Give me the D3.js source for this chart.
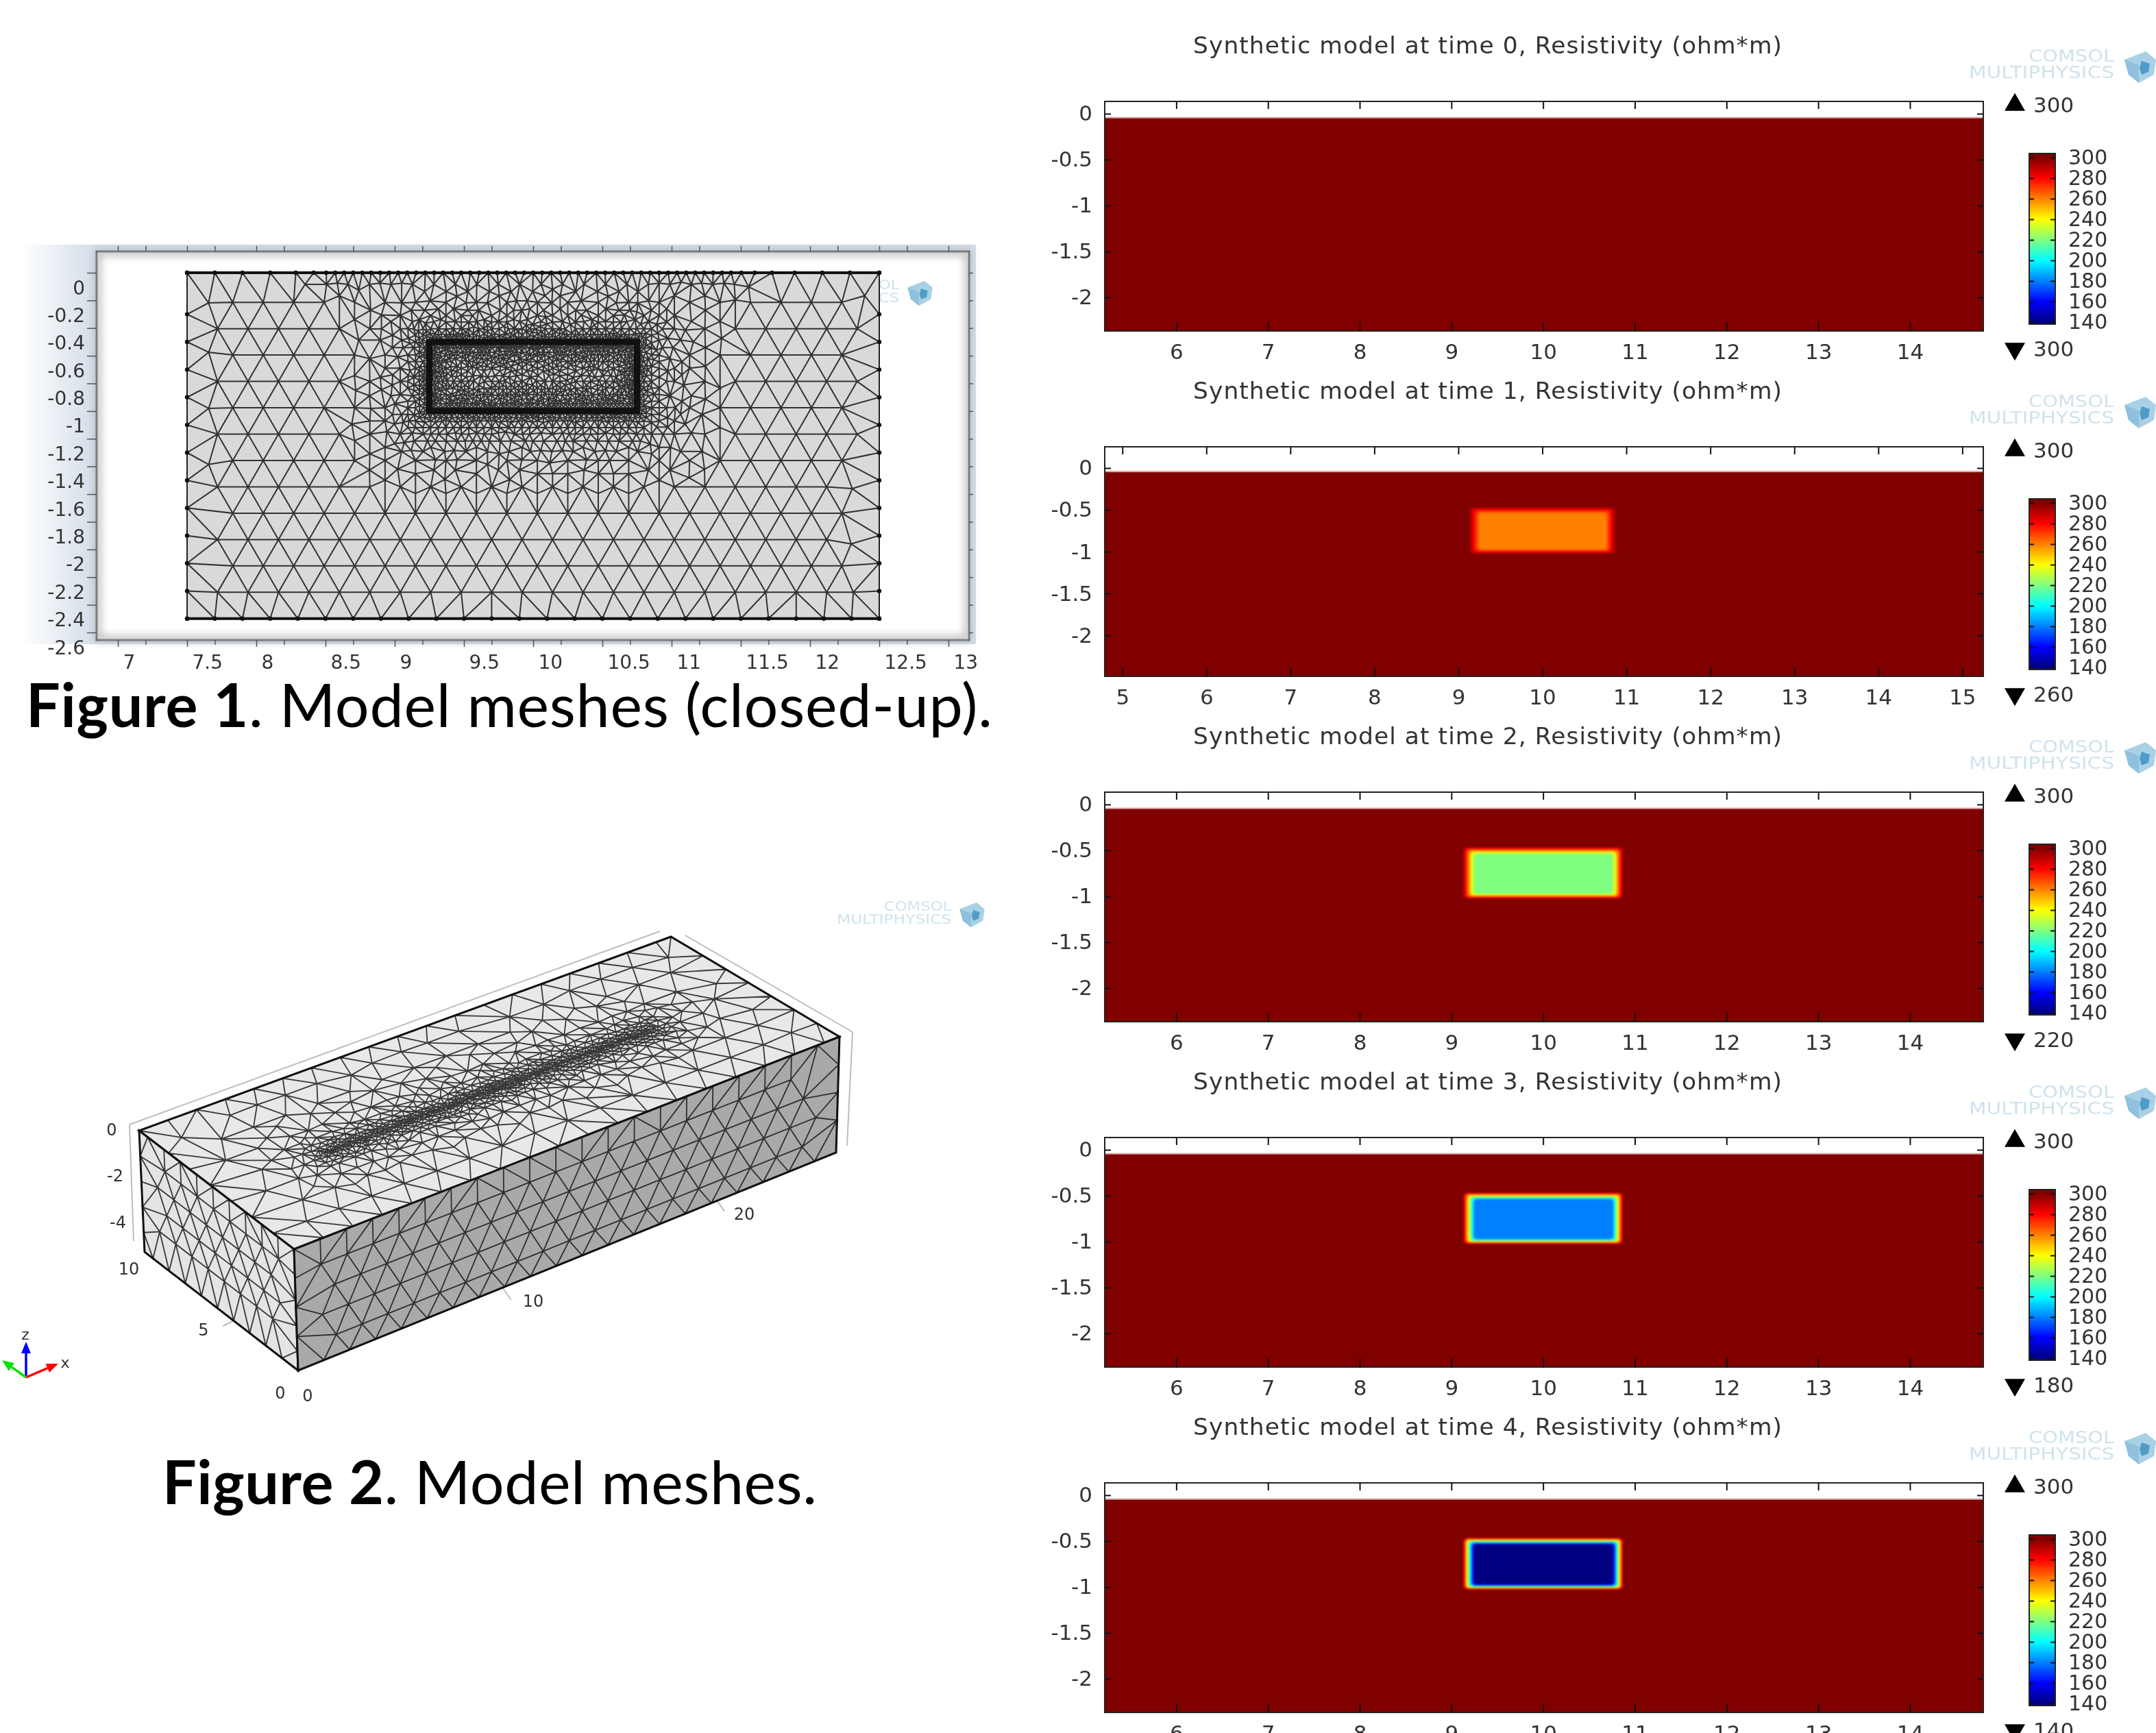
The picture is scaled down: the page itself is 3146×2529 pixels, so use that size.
<!DOCTYPE html>
<html>
<head>
<meta charset="utf-8">
<script src="https://cdn.jsdelivr.net/npm/d3@7"></script>
<style>
    html, body { margin: 0; padding: 0; background: #fff; overflow: hidden; }
    svg { display: block; }
    text { font-family: "DejaVu Sans"; fill: #333; }
    .soft { filter: blur(0.6px); }
    .smear { filter: blur(1.6px); }
</style>
</head>
<body>
<div id="chart"></div>
<script>
// values
const times = [0, 1, 2, 3, 4];
const anomalyValues = [300, 260, 220, 180, 140];
const topLabels = [300, 300, 300, 300, 300];
const bottomLabels = [300, 260, 220, 180, 140];
const colorbarTicks = [140, 160, 180, 200, 220, 240, 260, 280, 300];
const jetColors = ["#000080", "#0000ff", "#0080ff", "#00ffff", "#80ff80", "#ffff00", "#ff8000", "#ff0000", "#800000"];

const panelXDomains = [[5.22, 14.8], [4.79, 15.25], [5.22, 14.8], [5.22, 14.8], [5.22, 14.8]];
const panelYDomains = [[0.134, -2.366], [0.254, -2.49], [0.134, -2.366], [0.134, -2.366], [0.134, -2.366]];
const panelXTicks = [
    [6, 7, 8, 9, 10, 11, 12, 13, 14],
    [5, 6, 7, 8, 9, 10, 11, 12, 13, 14, 15],
    [6, 7, 8, 9, 10, 11, 12, 13, 14],
    [6, 7, 8, 9, 10, 11, 12, 13, 14],
    [6, 7, 8, 9, 10, 11, 12, 13, 14]
];
const panelYTicks = [0, -0.5, -1, -1.5, -2];
const modelTop = -0.05;
const anomalyOuter = {x0: 9.12, x1: 10.88, y0: -0.46, y1: -1.03};
const anomalyInner = {x0: 9.25, x1: 10.76, y0: -0.54, y1: -0.97};
const edgeSteps = d3.range(0, 1.001, 0.05);

const meshXMajor = [7, 7.5, 8, 8.5, 9, 9.5, 10, 10.5, 11, 11.5, 12, 12.5, 13];
const meshXMinor = [7.2, 7.7, 8.2, 8.7, 9.2, 9.7, 10.2, 10.7, 11.2, 11.7, 12.2, 12.7];
const meshYTicks = [0, -0.2, -0.4, -0.6, -0.8, -1, -1.2, -1.4, -1.6, -1.8, -2, -2.2, -2.4, -2.6];
const meshLevels = [0.22, 0.155, 0.11, 0.078, 0.055, 0.039, 0.028, 0.02, 0.014];
const boxLevels = [1.5, 1.06, 0.75, 0.53, 0.37, 0.26, 0.18, 0.13];

const svg = d3.select("#chart").append("svg")
    .attr("width", 3146)
    .attr("height", 2529)
    .attr("viewBox", "0 0 3146 2529");
const defs = svg.append("defs");

const color = d3.scaleLinear().domain(colorbarTicks).range(jetColors);

// distance from a point to a rectangle, 0 inside
function rectDistance(x, y, x0, x1, y0, y1) {
    const dx = Math.max(x0 - x, 0, x - x1);
    const dy = Math.max(y0 - y, 0, y - y1);
    return Math.hypot(dx, dy);
}

// nodes placed coarse to fine on hex lattices, then Delaunay over them
function buildMesh(x0, x1, y0, y1, sizeAt, levels) {
    const points = [];
    const tree = d3.quadtree();
    const add = function (p) { points.push(p); tree.add(p); };

    const walk = function (fixed, a, b, horizontal) {
        let t = a;
        while (t < b - 0.5 * sizeAt(horizontal ? t : fixed, horizontal ? fixed : t)) {
            add(horizontal ? [t, fixed] : [fixed, t]);
            t += sizeAt(horizontal ? t : fixed, horizontal ? fixed : t);
        }
        add(horizontal ? [b, fixed] : [fixed, b]);
    };
    walk(y0, x0, x1, true);
    walk(y1, x0, x1, true);
    walk(x0, y0, y1, false);
    walk(x1, y0, y1, false);

    levels.forEach(function (level) {
        const rowStep = level * 0.866;
        let row = 0;
        for (let y = y0 + rowStep; y < y1; y += rowStep, row++) {
            for (let x = x0 + (row % 2 ? level / 2 : level); x < x1; x += level) {
                const r = sizeAt(x, y) * 0.85;
                if (x - x0 < r * 0.6 || x1 - x < r * 0.6 || y - y0 < r * 0.6 || y1 - y < r * 0.6) continue;
                if (tree.find(x, y, r) === undefined) add([x, y]);
            }
        }
    });
    return {points: points, triangles: d3.Delaunay.from(points).triangles};
}

// path string of all triangles of a mesh through a projection
function meshPath(mesh, project) {
    const path = d3.path();
    const t = mesh.triangles;
    for (let i = 0; i < t.length; i += 3) {
        const a = project(mesh.points[t[i]]);
        const b = project(mesh.points[t[i + 1]]);
        const c = project(mesh.points[t[i + 2]]);
        path.moveTo(a[0], a[1]);
        path.lineTo(b[0], b[1]);
        path.lineTo(c[0], c[1]);
        path.closePath();
    }
    return path.toString();
}

function drawLogo(x, y, scale) {
    const g = svg.append("g")
        .attr("transform", `translate(${x},${y}) scale(${scale})`)
        .attr("class", "soft");
    g.append("text").attr("x", 87).attr("y", -23).attr("textLength", 125).attr("lengthAdjust", "spacingAndGlyphs")
        .style("font-size", "25px").style("fill", "#cfe3ee").text("COMSOL");
    g.append("text").attr("x", 0).attr("y", 1).attr("textLength", 212).attr("lengthAdjust", "spacingAndGlyphs")
        .style("font-size", "25px").style("fill", "#cfe3ee").text("MULTIPHYSICS");
    const cube = g.append("g").attr("transform", "translate(250,-16)");
    cube.append("path").attr("d", "M-23,-10L8,-22L23,-10L20,12L-2,24L-17,12Z").attr("fill", "#a9d1e6");
    cube.append("path").attr("d", "M-23,-10L-2,-2L-2,24L-17,12Z").attr("fill", "#8fc1de");
    cube.append("path").attr("d", "M2,-8L14,-4L12,8L2,12L-1,2Z").attr("fill", "#4f9cc9");
}

// ---------- right column: the five resistivity panels ----------
const frame = {left: 1612, right: 2894, height: 335, top: 148, step: 504};
const barY = d3.scaleLinear().domain([140, 300]).range([322, 82]);
const barTop = 76, barHeight = 249;

const gradient = defs.append("linearGradient")
    .attr("id", "jet").attr("x1", 0).attr("x2", 0).attr("y1", 1).attr("y2", 0);
gradient.selectAll("stop")
    .data(colorbarTicks)
    .join("stop")
    .attr("offset", d => (barTop + barHeight - barY(d)) / barHeight)
    .attr("stop-color", d => color(d));

times.forEach(function (t, i) {
    const top = frame.top + i * frame.step;
    const x = d3.scaleLinear().domain(panelXDomains[i]).range([frame.left, frame.right]);
    const y = d3.scaleLinear().domain(panelYDomains[i]).range([0, frame.height]);

    drawLogo(2873, top - 35, 1);

    const g = svg.append("g").attr("transform", `translate(0,${top})`).attr("class", "soft");

    g.append("text")
        .attr("x", 1741)
        .attr("y", -70)
        .style("font-size", "34.5px")
        .attr("textLength", 859)
        .text(`Synthetic model at time ${t}, Resistivity (ohm*m)`);

    // background resistivity
    g.append("rect")
        .attr("x", frame.left)
        .attr("y", y(modelTop) - 2)
        .attr("width", frame.right - frame.left)
        .attr("height", 3)
        .attr("fill", "#d8a8a8");
    g.append("rect")
        .attr("x", frame.left)
        .attr("y", y(modelTop))
        .attr("width", frame.right - frame.left)
        .attr("height", frame.height - y(modelTop))
        .attr("fill", color(300));

    // the block, with its smeared edge going from 300 to the block value
    if (anomalyValues[i] !== 300) {
        g.append("g")
            .attr("class", "smear")
            .selectAll("rect")
            .data(edgeSteps)
            .join("rect")
            .attr("x", d => x(anomalyOuter.x0 + d * (anomalyInner.x0 - anomalyOuter.x0)))
            .attr("y", d => y(anomalyOuter.y0 + d * (anomalyInner.y0 - anomalyOuter.y0)))
            .attr("width", d => x(anomalyOuter.x1 + d * (anomalyInner.x1 - anomalyOuter.x1)) - x(anomalyOuter.x0 + d * (anomalyInner.x0 - anomalyOuter.x0)))
            .attr("height", d => y(anomalyOuter.y1 + d * (anomalyInner.y1 - anomalyOuter.y1)) - y(anomalyOuter.y0 + d * (anomalyInner.y0 - anomalyOuter.y0)))
            .attr("rx", 5)
            .attr("fill", d => color(300 + d * (anomalyValues[i] - 300)));
    }

    // frame and axes
    g.append("rect")
        .attr("x", frame.left)
        .attr("y", 0)
        .attr("width", frame.right - frame.left)
        .attr("height", frame.height)
        .attr("fill", "none")
        .attr("stroke", "#222")
        .attr("stroke-width", 2);

    const xBottom = g.append("g")
        .attr("transform", `translate(0,${frame.height})`)
        .call(d3.axisBottom(x).tickValues(panelXTicks[i]).tickFormat(String).tickSize(-13).tickPadding(19));
    const xTop = g.append("g")
        .call(d3.axisTop(x).tickValues(panelXTicks[i]).tickFormat("").tickSize(-11));
    const yLeft = g.append("g")
        .attr("transform", `translate(${frame.left},0)`)
        .call(d3.axisLeft(y).tickValues(panelYTicks).tickFormat(String).tickSize(-9).tickPadding(18));
    const yRight = g.append("g")
        .attr("transform", `translate(${frame.right},0)`)
        .call(d3.axisRight(y).tickValues(panelYTicks).tickFormat("").tickSize(-9));
    xTop.selectAll("text").remove();
    yRight.selectAll("text").remove();
    [xBottom, xTop, yLeft, yRight].forEach(function (a) {
        a.select(".domain").remove();
        a.selectAll("line").attr("stroke", "#111").attr("stroke-width", 2);
        a.selectAll("text").style("font-size", "31px").style("font-family", "DejaVu Sans").attr("fill", "#333");
    });

    // max and min markers
    g.append("path")
        .attr("d", d3.symbol(d3.symbolTriangle, 390))
        .attr("transform", "translate(2940,5)")
        .attr("fill", "#000");
    g.append("text").attr("x", 2967).attr("y", 16).style("font-size", "31px").text(topLabels[i]);
    g.append("path")
        .attr("d", d3.symbol(d3.symbolTriangle, 390))
        .attr("transform", "translate(2940,361) rotate(180)")
        .attr("fill", "#000");
    g.append("text").attr("x", 2967).attr("y", 372).style("font-size", "31px").text(bottomLabels[i]);

    // colour bar
    g.append("rect")
        .attr("x", 2961)
        .attr("y", barTop)
        .attr("width", 38)
        .attr("height", barHeight)
        .attr("fill", "url(#jet)")
        .attr("stroke", "#222")
        .attr("stroke-width", 2);
    const barAxis = g.append("g")
        .attr("transform", "translate(2999,0)")
        .call(d3.axisRight(barY).tickValues(colorbarTicks).tickFormat(String).tickSize(-7).tickPadding(19));
    barAxis.select(".domain").remove();
    barAxis.selectAll("line").attr("stroke", "#111").attr("stroke-width", 2);
    barAxis.selectAll("text").style("font-size", "30px").style("font-family", "DejaVu Sans").attr("fill", "#333");
    const barAxisLeft = g.append("g")
        .attr("transform", "translate(2961,0)")
        .call(d3.axisLeft(barY).tickValues(colorbarTicks).tickFormat("").tickSize(-7));
    barAxisLeft.select(".domain").remove();
    barAxisLeft.selectAll("text").remove();
    barAxisLeft.selectAll("line").attr("stroke", "#111").attr("stroke-width", 2);
});

// ---------- Figure 1: close-up of the mesh ----------
const fig1X = d3.scaleLinear().domain([7, 13]).range([172, 1384]);
const fig1Y = d3.scaleLinear().domain([0, -2.6]).range([398, 923]);
const fig1Frame = {left: 141, right: 1414, top: 367, bottom: 934};

const fade = defs.append("linearGradient").attr("id", "fade");
fade.append("stop").attr("offset", 0).attr("stop-color", "#fff");
fade.append("stop").attr("offset", 0.08).attr("stop-color", "#d3dce8");
fade.append("stop").attr("offset", 1).attr("stop-color", "#d3dce8");
const shadow = defs.append("filter").attr("id", "innerShade").attr("x", "-5%").attr("y", "-5%").attr("width", "110%").attr("height", "110%");
shadow.append("feGaussianBlur").attr("stdDeviation", 6);

svg.append("rect")
    .attr("x", 30).attr("y", 357).attr("width", 1394).attr("height", 583)
    .attr("fill", "url(#fade)");
svg.append("rect")
    .attr("x", fig1Frame.left).attr("y", fig1Frame.top)
    .attr("width", fig1Frame.right - fig1Frame.left).attr("height", fig1Frame.bottom - fig1Frame.top)
    .attr("fill", "#fff").attr("stroke", "#444").attr("stroke-width", 3);
svg.append("rect")
    .attr("x", fig1Frame.left + 2).attr("y", fig1Frame.top + 2)
    .attr("width", fig1Frame.right - fig1Frame.left - 4).attr("height", fig1Frame.bottom - fig1Frame.top - 4)
    .attr("fill", "none").attr("stroke", "#b5b5b5").attr("stroke-width", 8)
    .attr("filter", "url(#innerShade)");

drawLogo(1145, 440, 0.79);

const box = {x0: 9.25, x1: 10.75, y0: -1, y1: -0.5};
const fig1Size = function (x, y) {
    const outside = rectDistance(x, y, box.x0, box.x1, box.y0, box.y1);
    const inside = Math.min(x - box.x0, box.x1 - x, y - box.y0, box.y1 - y);
    const nearBox = outside > 0 ? 0.018 + 0.2 * outside : 0.018 + 0.1 * inside;
    const nearTop = 0.065 + 0.3 * rectDistance(x, y, 8.5, 11.4, 0, 0);
    return Math.min(0.2, nearBox, nearTop);
};
const fig1Mesh = buildMesh(7.5, 12.5, -2.5, 0, fig1Size, meshLevels);

const fig1 = svg.append("g").attr("class", "soft");
fig1.append("rect")
    .attr("x", fig1X(7.5)).attr("y", fig1Y(0))
    .attr("width", fig1X(12.5) - fig1X(7.5)).attr("height", fig1Y(-2.5) - fig1Y(0))
    .attr("fill", "#d9d9d9");
fig1.append("path")
    .attr("d", meshPath(fig1Mesh, p => [fig1X(p[0]), fig1Y(p[1])]))
    .attr("fill", "none").attr("stroke", "#151515").attr("stroke-width", 2).attr("stroke-opacity", 0.85);
// box edge and outer edges
fig1.append("rect")
    .attr("x", fig1X(box.x0)).attr("y", fig1Y(box.y1))
    .attr("width", fig1X(box.x1) - fig1X(box.x0)).attr("height", fig1Y(box.y0) - fig1Y(box.y1))
    .attr("fill", "none").attr("stroke", "#111").attr("stroke-width", 9);
fig1.append("rect")
    .attr("x", fig1X(7.5)).attr("y", fig1Y(0))
    .attr("width", fig1X(12.5) - fig1X(7.5)).attr("height", fig1Y(-2.5) - fig1Y(0))
    .attr("fill", "none").attr("stroke", "#222").attr("stroke-width", 2);
[0, -2.5].forEach(function (v) {
    fig1.append("line")
        .attr("x1", fig1X(7.5)).attr("x2", fig1X(12.5))
        .attr("y1", fig1Y(v)).attr("y2", fig1Y(v))
        .attr("stroke", "#111").attr("stroke-width", 4);
});
fig1.append("g").selectAll("circle")
    .data(fig1Mesh.points.filter(p => p[0] === 7.5 || p[0] === 12.5 || p[1] === 0 || p[1] === -2.5))
    .join("circle")
    .attr("cx", d => fig1X(d[0]))
    .attr("cy", d => fig1Y(d[1]))
    .attr("r", 3.2)
    .attr("fill", "#111");

// Fig 1 axes, labels sit beside their ticks as in the original
const fig1Axes = svg.append("g").attr("class", "soft");
const fig1Bottom = fig1Axes.append("g")
    .attr("transform", `translate(0,${fig1Frame.bottom})`)
    .call(d3.axisBottom(fig1X).tickValues(meshXMajor).tickFormat(String).tickSize(10).tickPadding(12));
fig1Bottom.selectAll("text").attr("text-anchor", "start").attr("dx", 7);
const fig1BottomMinor = fig1Axes.append("g")
    .attr("transform", `translate(0,${fig1Frame.bottom})`)
    .call(d3.axisBottom(fig1X).tickValues(meshXMinor).tickFormat("").tickSize(7));
const fig1Top = fig1Axes.append("g")
    .attr("transform", `translate(0,${fig1Frame.top})`)
    .call(d3.axisTop(fig1X).tickValues(meshXMajor.concat(meshXMinor)).tickFormat("").tickSize(8));
const fig1Left = fig1Axes.append("g")
    .attr("transform", `translate(${fig1Frame.left},0)`)
    .call(d3.axisLeft(fig1Y).tickValues(meshYTicks).tickFormat(String).tickSize(14).tickPadding(3));
fig1Left.selectAll("text").attr("dy", 31);
const fig1Right = fig1Axes.append("g")
    .attr("transform", `translate(${fig1Frame.right},0)`)
    .call(d3.axisRight(fig1Y).tickValues(meshYTicks).tickFormat("").tickSize(6));
fig1BottomMinor.selectAll("text").remove();
fig1Top.selectAll("text").remove();
fig1Right.selectAll("text").remove();
[fig1Bottom, fig1BottomMinor, fig1Top, fig1Left, fig1Right].forEach(function (a) {
    a.select(".domain").remove();
    a.selectAll("line").attr("stroke", "#555").attr("stroke-width", 1.5);
    a.selectAll("text").style("font-size", "28px").style("font-family", "DejaVu Sans").attr("fill", "#333");
});

const caption1 = svg.append("text").attr("x", 38).attr("y", 1061).attr("textLength", 1410)
    .style("font-family", "Lato").style("font-size", "88px").style("fill", "#000");
caption1.append("tspan").style("font-family", "Lato").style("font-weight", "bold").style("fill", "#000").text("Figure 1");
caption1.append("tspan").style("font-family", "Lato").style("fill", "#000").text(". Model meshes (closed-up).");

// ---------- Figure 2: the 3D box ----------
const modelLength = 25, modelWidth = 10, modelDepth = 5;
const corners = {
    frontTop: [429, 1823], rightTop: [1225, 1513], backTop: [979, 1367], leftTop: [203, 1650],
    frontBottom: [435, 2000], rightBottom: [1220, 1682], leftBottom: [211, 1827]
};

// four corners a,b,c,d going round a face, s along a-b and t along a-d
function bilinear(a, b, c, d, lenS, lenT) {
    return function (p) {
        const s = p[0] / lenS, t = p[1] / lenT;
        return [0, 1].map(k => (1 - s) * (1 - t) * a[k] + s * (1 - t) * b[k] + s * t * c[k] + (1 - s) * t * d[k]);
    };
}

const topFace = bilinear(corners.frontTop, corners.rightTop, corners.backTop, corners.leftTop, modelLength, modelWidth);
const frontFace = bilinear(corners.frontTop, corners.rightTop, corners.rightBottom, corners.frontBottom, modelLength, modelDepth);
const sideFace = bilinear(corners.frontTop, corners.leftTop, corners.leftBottom, corners.frontBottom, modelWidth, modelDepth);

const topMesh = buildMesh(0, modelLength, 0, modelWidth,
    (x, y) => Math.min(1.35, 0.09 + 0.33 * rectDistance(x, y, 5, 20, 4.8, 4.8)), boxLevels);
const frontMesh = buildMesh(0, modelLength, 0, modelDepth, () => 1.2, [1.2]);
const sideMesh = buildMesh(0, modelWidth, 0, modelDepth, () => 1.05, [1.05]);

const fig2 = svg.append("g").attr("class", "soft");

// grey bounding box behind the model
const axisFront = d3.scaleLinear().domain([0, modelLength]).range([[434, 2026], [1213, 1703]]);
const axisSide = d3.scaleLinear().domain([0, modelWidth]).range([[434, 2026], [217, 1844]]);
const backLines = [
    [[189, 1641], [963, 1359]],
    [[1000, 1365], [1244, 1506]],
    [[1244, 1506], [1236, 1672]],
    [[189, 1641], [195, 1811]],
    [axisFront(0), axisFront(modelLength)],
    [axisSide(0), axisSide(modelWidth)]
];
fig2.append("g").selectAll("line")
    .data(backLines)
    .join("line")
    .attr("x1", d => d[0][0]).attr("y1", d => d[0][1])
    .attr("x2", d => d[1][0]).attr("y2", d => d[1][1])
    .attr("stroke", "#bdbdbd").attr("stroke-width", 2);
fig2.append("g").selectAll("line")
    .data([10, 20])
    .join("line")
    .attr("x1", d => axisFront(d)[0]).attr("y1", d => axisFront(d)[1])
    .attr("x2", d => axisFront(d)[0] - 14).attr("y2", d => axisFront(d)[1] - 20)
    .attr("stroke", "#bdbdbd").attr("stroke-width", 2);
fig2.append("line")
    .attr("x1", axisSide(5)[0]).attr("y1", axisSide(5)[1])
    .attr("x2", axisSide(5)[0] + 20).attr("y2", axisSide(5)[1] - 10)
    .attr("stroke", "#bdbdbd").attr("stroke-width", 2);

function drawFace(mesh, project, outline, fill) {
    fig2.append("path")
        .attr("d", d3.line()(outline) + "Z")
        .attr("fill", fill);
    fig2.append("path")
        .attr("d", meshPath(mesh, project))
        .attr("fill", "none").attr("stroke", "#1a1a1a").attr("stroke-width", 1.8).attr("stroke-opacity", 0.85);
    fig2.append("path")
        .attr("d", d3.line()(outline) + "Z")
        .attr("fill", "none").attr("stroke", "#111").attr("stroke-width", 3);
}
drawFace(topMesh, topFace, [corners.frontTop, corners.rightTop, corners.backTop, corners.leftTop], "#e8e8e8");
drawFace(sideMesh, sideFace, [corners.frontTop, corners.leftTop, corners.leftBottom, corners.frontBottom], "#e4e4e4");
drawFace(frontMesh, frontFace, [corners.frontTop, corners.rightTop, corners.rightBottom, corners.frontBottom], "#a9a9a9");

const fig2Labels = [
    {t: "0", x: 163, y: 1657}, {t: "-2", x: 168, y: 1724}, {t: "-4", x: 172, y: 1792},
    {t: "10", x: 188, y: 1860}, {t: "5", x: 297, y: 1949}, {t: "0", x: 409, y: 2041},
    {t: "0", x: 449, y: 2045}, {t: "10", x: 778, y: 1907}, {t: "20", x: 1086, y: 1780}
];
fig2.append("g").selectAll("text")
    .data(fig2Labels)
    .join("text")
    .attr("x", d => d.x).attr("y", d => d.y)
    .attr("text-anchor", "middle")
    .style("font-size", "24px")
    .text(d => d.t);

drawLogo(1221, 1347, 0.79);

// coordinate triad
const triadOrigin = [38, 2010];
const triad = [
    {end: [38, 1958], color: "#0000ff", label: "z", lx: 37, ly: 1955},
    {end: [85, 1990], color: "#ff0000", label: "x", lx: 95, ly: 1996},
    {end: [3, 1985], color: "#00e000", label: "", lx: 0, ly: 0}
];
const triadGroup = svg.append("g").attr("class", "soft");
triad.forEach(function (a) {
    const dx = a.end[0] - triadOrigin[0], dy = a.end[1] - triadOrigin[1];
    const len = Math.hypot(dx, dy), ux = dx / len, uy = dy / len;
    const bx = a.end[0] - ux * 17, by = a.end[1] - uy * 17;
    triadGroup.append("line")
        .attr("x1", triadOrigin[0]).attr("y1", triadOrigin[1])
        .attr("x2", bx).attr("y2", by)
        .attr("stroke", a.color).attr("stroke-width", 3.5);
    triadGroup.append("path")
        .attr("d", d3.line()([a.end, [bx - uy * 7, by + ux * 7], [bx + uy * 7, by - ux * 7]]) + "Z")
        .attr("fill", a.color);
    if (a.label) {
        triadGroup.append("text")
            .attr("x", a.lx).attr("y", a.ly)
            .attr("text-anchor", "middle")
            .style("font-size", "22px")
            .text(a.label);
    }
});

const caption2 = svg.append("text").attr("x", 237).attr("y", 2195).attr("textLength", 955)
    .style("font-family", "Lato").style("font-size", "88px").style("fill", "#000");
caption2.append("tspan").style("font-family", "Lato").style("font-weight", "bold").style("fill", "#000").text("Figure 2");
caption2.append("tspan").style("font-family", "Lato").style("fill", "#000").text(". Model meshes.");
</script>
</body>
</html>
